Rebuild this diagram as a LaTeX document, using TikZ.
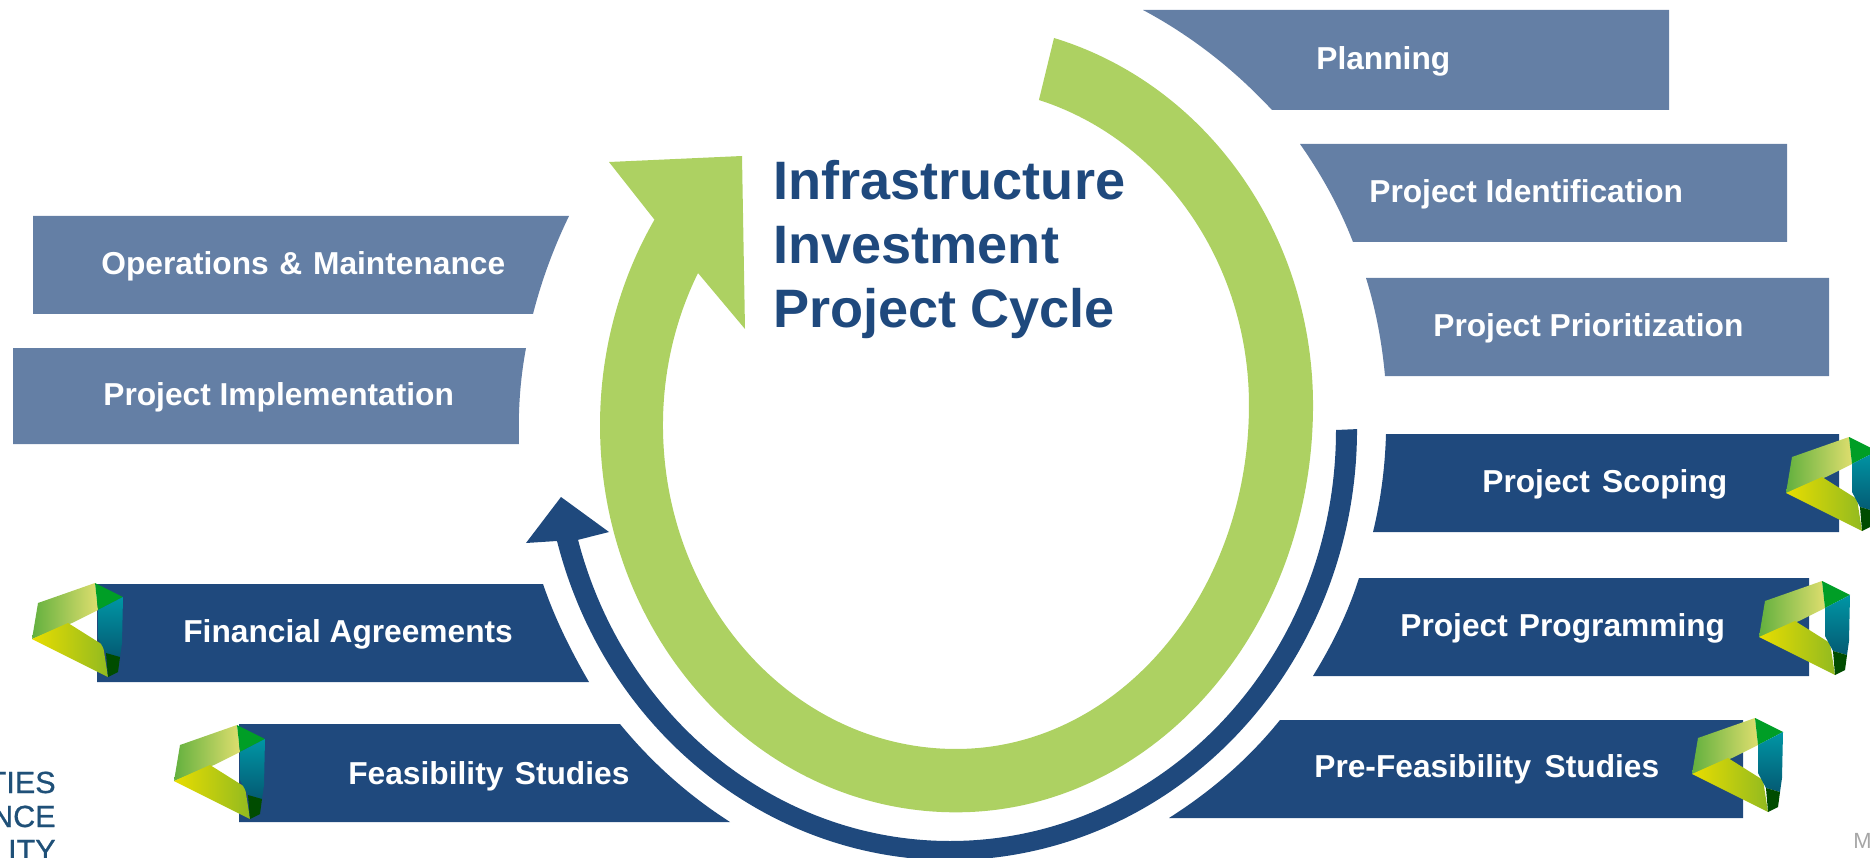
\documentclass[tikz,border=0pt]{standalone}
\usepackage{fontspec}
\setmainfont{Liberation Sans}
\newfontfamily\orgfont[FakeBold=0.7]{Liberation Sans}
\definecolor{cycleblue}{HTML}{1F497D}
\definecolor{paleblue}{HTML}{647FA5}
\definecolor{cyclegreen}{HTML}{ADD162}
\definecolor{orgtext}{HTML}{1F5078}
\tikzset{
  darkbox/.style={fill=cycleblue},
  palebox/.style={fill=paleblue},
  boxtext/.style={text=white,inner sep=0pt,anchor=base west,
    font=\fontsize{18.05pt}{20pt}\selectfont\bfseries},
  orgline/.style={text=orgtext,inner sep=0pt,anchor=base east,
    font=\fontsize{17.4pt}{20pt}\orgfont},
  logo/.pic={
    \shade[left color={rgb,255:red,98;green,176;blue,62},right color={rgb,255:red,222;green,222;blue,110}]
      (6,20) -- (63,0) -- (66,27) -- (40,40) -- (0,56) -- cycle;
    \shade[left color={rgb,255:red,232;green,221;blue,0},right color={rgb,255:red,146;green,186;blue,32}]
      (0,56) -- (36,40) -- (71,62) -- (76,94) -- cycle;
    \fill[green!55!black!85!cyan] (63,0) -- (91,14) -- (66,27) -- cycle;
    \shade[top color={rgb,255:red,0;green,150;blue,165},bottom color={rgb,255:red,4;green,90;blue,115}]
      (66,27) -- (91,14) -- (90,60) -- (88,74) -- (74,70) -- (66,55) -- cycle;
    \fill[green!30!black] (74,70) -- (88,74) -- (86,89) -- (76,94) -- cycle;
  }
}
\begin{document}
\begin{tikzpicture}[x=0.02cm,y=-0.02cm]
  \useasboundingbox (0,0) rectangle (1870,858);
  %
  % Green arrow
  \fill[cyclegreen] (1054,38)
    arc[x radius=357,y radius=382,start angle=-74.07,end angle=0]
    arc[x radius=357,y radius=407,start angle=0,end angle=90]
    arc[x radius=356,y radius=387,start angle=90,end angle=180]
    arc[x radius=356,y radius=387,start angle=180,end angle=212.1]
    -- (609,162) -- (742,156) -- (745,329) -- (698,273)
    arc[x radius=293,y radius=320.6,start angle=208.3,end angle=180]
    arc[x radius=293,y radius=324,start angle=180,end angle=90]
    arc[x radius=293,y radius=344,start angle=90,end angle=0]
    arc[x radius=293,y radius=318,start angle=0,end angle=-73.55]
    -- cycle;
  %
  % Blue arrow
  \fill[cycleblue] (1336,430)
    arc[x radius=386,y radius=411,start angle=0,end angle=164.5]
    -- (609,532) -- (561,497) -- (526,543) -- (557,541)
    arc[x radius=407,y radius=431,start angle=164.95,end angle=0]
    -- cycle;
  %
  % Upper right boxes
  \fill[palebox] (1143,10) .. controls (1190.5,35.3) and (1233.5,68.7) .. (1272,110) -- (1669,110) -- (1669,10) -- cycle;
  \fill[palebox] (1300,144) .. controls (1321,174) and (1339,206) .. (1353,242) -- (1787,242) -- (1787,144) -- cycle;
  \fill[palebox] (1366,278) .. controls (1376,310) and (1382,343) .. (1385,376) -- (1829,376) -- (1829,278) -- cycle;
  %
  % Lower right boxes
  \fill[darkbox] (1386,434) .. controls (1385,467) and (1381,499) .. (1373,532) -- (1839,532) -- (1839,434) -- cycle;
  \fill[darkbox] (1359,578) .. controls (1348,613) and (1332,645) .. (1313,676) -- (1809,676) -- (1809,578) -- cycle;
  \fill[darkbox] (1280,720) .. controls (1248.5,759) and (1211.5,791) .. (1169,818) -- (1743,818) -- (1743,720) -- cycle;
  %
  % Left boxes
  \fill[palebox] (33,216) -- (569,216) .. controls (554,247) and (542,279) .. (533,314) -- (33,314) -- cycle;
  \fill[palebox] (13,348) -- (526,348) .. controls (520,380) and (518,412) .. (519,444) -- (13,444) -- cycle;
  \fill[darkbox] (97,584) -- (543,584) .. controls (555,619) and (571,651) .. (589,682) -- (97,682) -- cycle;
  \fill[darkbox] (239,724) -- (620,724) .. controls (652,763) and (688,795) .. (730,822) -- (239,822) -- cycle;
  %
  % Logos
  \pic at (32,583) {logo};
  \pic at (174,725) {logo};
  \pic at (1786,437) {logo};
  \pic at (1759,581) {logo};
  \pic at (1692,718) {logo};
  %
  % Labels
  \node[boxtext] (planning) at (1316,70) {Planning};
  \node[boxtext] (identification) at (1369,203) {Project Identification};
  \node[boxtext] (prioritization) at (1433,337) {Project Prioritization};
  \node[boxtext] (scoping) at (1482,492) {Project\hspace{2pt} Scoping};
  \node[boxtext] (programming) at (1400,636) {Project\hspace{1.3pt} Programming};
  \node[boxtext] (prefeasibility) at (1314,777) {Pre-Feasibility\hspace{2.7pt} Studies};
  \node[boxtext] (operations) at (101,275) {Operations\hspace{1.1pt} \&\hspace{1.1pt} Maintenance};
  \node[boxtext] (implementation) at (103,405) {Project Implementation};
  \node[boxtext] (financial) at (183,642) {Financial Agreements};
  \node[boxtext] (feasibility) at (348,784) {Feasibility\hspace{1.5pt} Studies};
  %
  % Title
  \node[text=cycleblue,inner sep=0pt,anchor=base west,align=left,
    font=\fontsize{30.8pt}{36.3pt}\selectfont\bfseries] (title) at (773,327)
    {Infrastructure\\Investment\\Project\hspace{-1pt} Cycle};
  %
  % Cropped text at the edges
  \node[orgline] (orgties) at (56,793) {TIES};
  \node[orgline] (orgnce) at (56,827) {NCE};
  \node[orgline] (orgity) at (56,861) {ITY};
  \node[text=black!35,inner sep=0pt,anchor=base west,
    font=\fontsize{12.5pt}{14pt}\selectfont] (edgeletter) at (1853,848) {M};
  %
\end{tikzpicture}
\end{document}
